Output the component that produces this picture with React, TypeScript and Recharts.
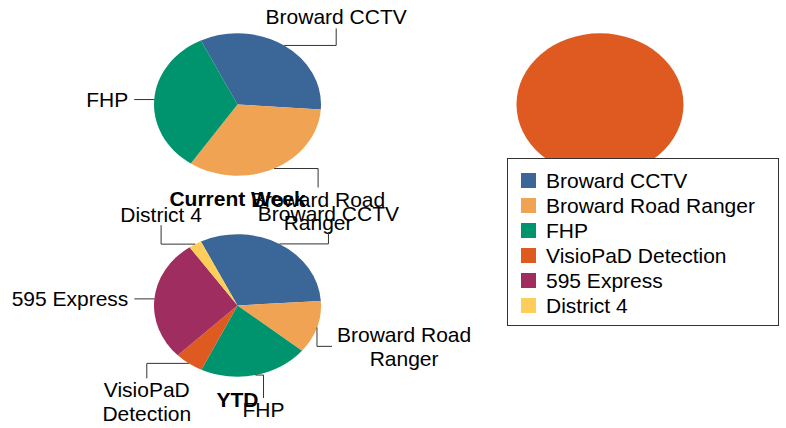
import React from 'react';
import { PieChart, Pie } from 'recharts';

// legend order / colours
const CATEGORIES = ['Broward CCTV', 'Broward Road Ranger', 'FHP', 'VisioPaD Detection', '595 Express', 'District 4'];
const COLORS = ['#3B6698', '#F0A453', '#00946E', '#DE5A20', '#A02D5F', '#FFCD5A'];

// Current Week
const WEEK_NAMES = ['Broward CCTV', 'Broward Road Ranger', 'FHP'];
const WEEK_VALUES = [1, 1, 1];

// right pie (only one source)
const SINGLE_NAMES = ['VisioPaD Detection'];
const SINGLE_VALUES = [1];

// YTD
const YTD_NAMES = ['Broward CCTV', 'Broward Road Ranger', 'FHP', 'VisioPaD Detection', '595 Express', 'District 4'];
const YTD_VALUES = [112, 43, 76, 20, 99, 9];

const FONT = '"Liberation Sans", Arial, sans-serif';
const FONT_SIZE = 21;
const LINE_H = 23.5;
const CAP_H = 15;
const SQUASH = 0.853; // pies are drawn as ellipses
const RADIUS = 83.5;
const START = 116;

type LabelSpec = { hx: number; vy: number; order: 'hv' | 'vh'; pos: 'up' | 'down' | 'left' | 'right'; gap?: number };

const WEEK_LABELS: Record<string, LabelSpec> = {
  'Broward CCTV': { hx: 52, vy: -17, order: 'hv', pos: 'up', gap: 4 },
  'Broward Road Ranger': { hx: 44, vy: 19, order: 'hv', pos: 'down' },
  FHP: { hx: -20, vy: 0, order: 'hv', pos: 'left' },
};

const YTD_LABELS: Record<string, LabelSpec> = {
  'Broward CCTV': { hx: 49, vy: -12, order: 'hv', pos: 'up', gap: 11 },
  'Broward Road Ranger': { hx: 15, vy: 19, order: 'vh', pos: 'right' },
  FHP: { hx: 8, vy: 23, order: 'hv', pos: 'down' },
  'VisioPaD Detection': { hx: -42, vy: 15, order: 'hv', pos: 'down' },
  '595 Express': { hx: -20, vy: 0, order: 'hv', pos: 'left' },
  'District 4': { hx: -34, vy: -19, order: 'hv', pos: 'up', gap: 3 },
};

const toData = (names: string[], values: number[]) => names.map((name, i) => ({ name, value: values[i] }));

const colorOf = (name: string) => COLORS[CATEGORIES.indexOf(name)];

let ctx: CanvasRenderingContext2D | null = null;
const textWidth = (s: string) => {
  if (!ctx) ctx = document.createElement('canvas').getContext('2d');
  if (!ctx) return s.length * FONT_SIZE * 0.55;
  ctx.font = `${FONT_SIZE}px ${FONT}`;
  return ctx.measureText(s).width;
};

const wrap = (s: string) => {
  if (s.length <= 14) return [s];
  const i = s.lastIndexOf(' ');
  return [s.slice(0, i), s.slice(i + 1)];
};

const pt = (cx: number, cy: number, r: number, deg: number) => {
  const a = (deg * Math.PI) / 180;
  return [cx + r * Math.cos(a), cy - r * SQUASH * Math.sin(a)];
};

const wedgePath = (cx: number, cy: number, r: number, start: number, end: number) => {
  const sweep = Math.abs(start - end);
  const ry = r * SQUASH;
  if (sweep >= 359.99) {
    return `M${cx - r},${cy}A${r},${ry} 0 1 1 ${cx + r},${cy}A${r},${ry} 0 1 1 ${cx - r},${cy}Z`;
  }
  const [x1, y1] = pt(cx, cy, r, start);
  const [x2, y2] = pt(cx, cy, r, end);
  return `M${cx},${cy}L${x1},${y1}A${r},${ry} 0 ${sweep > 180 ? 1 : 0} ${start > end ? 1 : 0} ${x2},${y2}Z`;
};

const makeLabel = (title: string, specs: Record<string, LabelSpec>) => (props: any) => {
  const { cx, cy, outerRadius, startAngle, endAngle, name, index } = props;
  const mid = (startAngle + endAngle) / 2;
  const [px, py] = pt(cx, cy, outerRadius, mid);
  const spec = specs[name];
  const ex = px + (spec ? spec.hx : 0);
  const ey = py + (spec ? spec.vy : 0);
  const corner = spec && spec.order === 'vh' ? [px, ey] : [ex, py];
  const lines = wrap(name);

  let text: React.ReactNode = null;
  if (spec) {
    const common = { fontFamily: FONT, fontSize: FONT_SIZE, fill: '#000' };
    if (spec.pos === 'up') {
      const last = ey - (spec.gap ?? 4);
      text = lines.map((l, i) => (
        <text key={i} x={ex} y={last - (lines.length - 1 - i) * LINE_H} textAnchor="middle" {...common}>{l}</text>
      ));
    } else if (spec.pos === 'down') {
      text = lines.map((l, i) => (
        <text key={i} x={ex} y={ey + 4 + CAP_H + i * LINE_H} textAnchor="middle" {...common}>{l}</text>
      ));
    } else if (spec.pos === 'left') {
      const top = ey - ((lines.length - 1) * LINE_H) / 2 + CAP_H / 2;
      text = lines.map((l, i) => (
        <text key={i} x={ex - 6} y={top + i * LINE_H} textAnchor="end" {...common}>{l}</text>
      ));
    } else {
      const w = Math.max(...lines.map(textWidth));
      const top = ey - ((lines.length - 1) * LINE_H) / 2 + CAP_H / 2;
      text = lines.map((l, i) => (
        <text key={i} x={ex + 5 + w / 2} y={top + i * LINE_H} textAnchor="middle" {...common}>{l}</text>
      ));
    }
  }

  return (
    <g>
      <path d={wedgePath(cx, cy, outerRadius, startAngle, endAngle)} fill={colorOf(name)} stroke="none" />
      {spec && (
        <polyline points={`${px},${py} ${corner[0]},${corner[1]} ${ex},${ey}`} fill="none" stroke="#333" strokeWidth={1} />
      )}
      {text}
      {index === 0 && title && (
        <text x={cx} y={cy + 101} textAnchor="middle" fontFamily={FONT} fontSize={FONT_SIZE} fontWeight="bold" fill="#000">
          {title}
        </text>
      )}
    </g>
  );
};

const LegendBox = () => (
  <div
    style={{
      position: 'absolute',
      left: 507,
      top: 158,
      width: 272,
      height: 168,
      boxSizing: 'border-box',
      border: '1px solid #333',
      background: '#fff',
      paddingTop: 8.5,
      paddingLeft: 13,
      fontFamily: FONT,
      fontSize: FONT_SIZE,
      color: '#000',
    }}
  >
    {CATEGORIES.map((c, i) => (
      <div key={c} style={{ display: 'flex', alignItems: 'center', height: 25 }}>
        <span style={{ display: 'inline-block', width: 15, height: 15, background: COLORS[i], marginRight: 10 }} />
        <span style={{ lineHeight: '25px', whiteSpace: 'nowrap' }}>{c}</span>
      </div>
    ))}
  </div>
);

export default function App() {
  return (
    <div style={{ position: 'absolute', left: 0, top: 0, width: 786, height: 428, background: '#fff' }}>
      <PieChart width={786} height={428} margin={{ top: 0, right: 0, bottom: 0, left: 0 }}>
        <Pie
          data={toData(WEEK_NAMES, WEEK_VALUES)}
          dataKey="value"
          nameKey="name"
          cx={237.5}
          cy={104.5}
          outerRadius={RADIUS}
          startAngle={START}
          endAngle={START - 360}
          fill="transparent"
          stroke="none"
          labelLine={false}
          label={makeLabel('Current Week', WEEK_LABELS)}
          isAnimationActive={false}
        />
        <Pie
          data={toData(SINGLE_NAMES, SINGLE_VALUES)}
          dataKey="value"
          nameKey="name"
          cx={600}
          cy={104.5}
          outerRadius={RADIUS}
          startAngle={START}
          endAngle={START - 360}
          fill="transparent"
          stroke="none"
          labelLine={false}
          label={makeLabel('', {})}
          isAnimationActive={false}
        />
        <Pie
          data={toData(YTD_NAMES, YTD_VALUES)}
          dataKey="value"
          nameKey="name"
          cx={237.5}
          cy={305.5}
          outerRadius={RADIUS}
          startAngle={START}
          endAngle={START - 360}
          fill="transparent"
          stroke="none"
          labelLine={false}
          label={makeLabel('YTD', YTD_LABELS)}
          isAnimationActive={false}
        />
      </PieChart>
      <LegendBox />
    </div>
  );
}
